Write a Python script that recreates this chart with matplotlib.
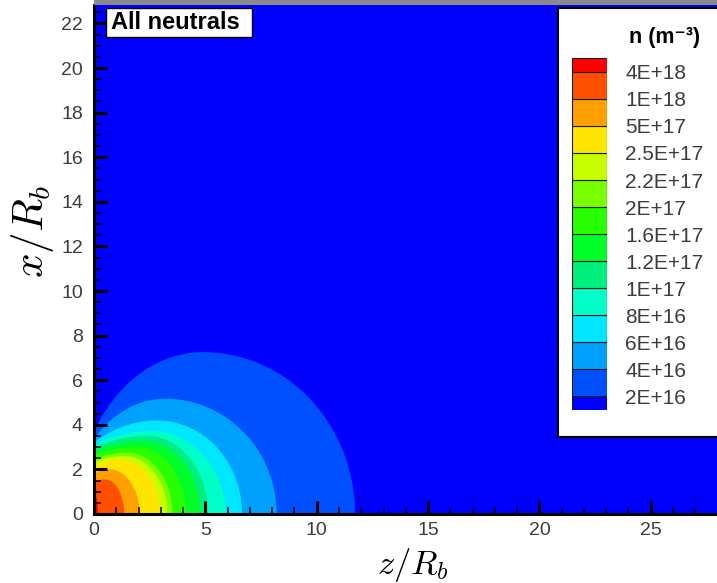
import numpy as np
import matplotlib
matplotlib.use('Agg')
import matplotlib.pyplot as plt
from matplotlib.patches import Rectangle
from matplotlib.ticker import MultipleLocator

plt.rcParams['font.family'] = ['Liberation Sans', 'DejaVu Sans']
plt.rcParams['mathtext.fontset'] = 'cm'

# contour levels of the neutral density, lowest first
level_labels = ['2E+16', '4E+16', '6E+16', '8E+16', '1E+17', '1.2E+17', '1.6E+17',
                '2E+17', '2.2E+17', '2.5E+17', '5E+17', '1E+18', '4E+18']
# one colour per band: below the first level ... above the last level
band_colors = ['#0000ff', '#0050ff', '#00a0ff', '#00e6ff', '#00ffc8', '#00f080', '#00ff28',
               '#28ff00', '#78ff00', '#c8ff00', '#ffe600', '#ffa000', '#ff5000', '#ff0000']

# each level line: crossing of the z axis, highest point (z, x), height where it meets z = 0
z_front = [11.72, 8.2, 6.65, 5.9, 5.12, 4.78, 4.12, 3.52, 3.3, 2.98, 2.05, 1.35, 0.18]
z_peak = [4.9, 3.2, 2.85, 2.55, 2.4, 2.2, 1.9, 1.5, 1.35, 1.2, 0.7, 0.5, 0.0]
x_peak = [7.26, 5.17, 4.19, 3.72, 3.5, 3.25, 3.0, 2.75, 2.6, 2.45, 2.0, 1.55, 1.0]
x_wall = [3.7, 3.35, 3.2, 3.05, 2.95, 2.8, 2.65, 2.45, 2.3, 2.15, 1.8, 1.45, 1.0]

W, H = 717, 583


def fx(px):
    return px / W


def fy(py):
    return 1 - py / H


def outline(zf, zp, xp, xw, n=120):
    # two elliptic arcs meeting at the peak, closed along the axes
    t = np.linspace(0, np.pi / 2, n)
    z_right = zp + (zf - zp) * np.sin(t)
    x_right = xp * np.cos(t)
    if zp > 0:
        a_left = zp / np.sqrt(1 - (xw / xp) ** 2)
        s = np.linspace(np.arcsin(zp / a_left), 0, n)
        z_left = zp - a_left * np.sin(s)
        x_left = xp * np.cos(s)
    else:
        z_left, x_left = np.array([0.0]), np.array([xp])
    z = np.concatenate([[0], z_left, z_right, [0]])
    x = np.concatenate([[0], x_left, x_right, [0]])
    return z, x


fig = plt.figure(figsize=(W / 100, H / 100), dpi=100)
ax = fig.add_axes([fx(94), 1 - 514 / H, (W - 94) / W, 509 / H])
ax.set_facecolor(band_colors[0])

for i in range(len(level_labels)):
    z, x = outline(z_front[i], z_peak[i], x_peak[i], x_wall[i])
    ax.fill(z, x, color=band_colors[i + 1], lw=0)

ax.set_xlim(0, (W - 94) / 22.27)
ax.set_ylim(0, 509 / 22.3)
ax.xaxis.set_major_locator(MultipleLocator(5))
ax.xaxis.set_minor_locator(MultipleLocator(1))
ax.yaxis.set_major_locator(MultipleLocator(2))
ax.yaxis.set_minor_locator(MultipleLocator(0.5))
ax.tick_params(which='both', direction='in', top=False, right=False, color='black')
ax.tick_params(which='major', length=9.5, width=2.2, labelsize=14, labelcolor='#3c3c3c')
ax.tick_params(which='minor', length=5, width=1.1)
ax.tick_params(axis='x', which='major', pad=5.5)
ax.tick_params(axis='y', which='major', pad=8)
for side in ['top', 'right']:
    ax.spines[side].set_visible(False)
for side in ['left', 'bottom']:
    ax.spines[side].set_linewidth(2.2)
    ax.spines[side].set_zorder(5)

fig.text(fx(413), fy(565), r'$z/R_b$', fontsize=25, ha='center', va='center')
fig.text(fx(33), fy(231), r'$x/R_b$', fontsize=31, ha='center', va='center', rotation=90)

# grey frame line along the top of the plot
fig.add_artist(Rectangle((fx(94), fy(5)), (W - 94) / W, 5 / H, transform=fig.transFigure,
                         facecolor='#8a8a8a', lw=0, zorder=1))

# plot title box
fig.add_artist(Rectangle((fx(106), fy(37)), 146 / W, 29 / H, transform=fig.transFigure,
                         facecolor='white', edgecolor='black', lw=1, zorder=2))
fig.text(fx(111), fy(22.5), 'All neutrals', fontsize=17, fontweight='bold',
         ha='left', va='center', zorder=3)

# legend panel
fig.add_artist(Rectangle((fx(558), fy(437)), (W + 5 - 558) / W, 429 / H,
                         transform=fig.transFigure, facecolor='white', edgecolor='black',
                         lw=1.5, zorder=2))
fig.text(fx(665), fy(37), 'n (m\u207b\u00b3)', fontsize=15.5, fontweight='bold',
         ha='center', va='center', zorder=3)

cax = fig.add_axes([fx(572), fy(410), 35 / W, 351.7 / H])
cax.set_zorder(3)
nlev = len(level_labels)
for i, c in enumerate(band_colors):
    lo = max(i - 1, -0.5)
    hi = min(i, nlev - 0.5)
    cax.bar(0, hi - lo, bottom=lo, width=1, color=c, edgecolor='#1a1a1a', linewidth=0.8)
cax.set_xlim(-0.5, 0.5)
cax.set_ylim(-0.5, nlev - 0.5)
cax.set_xticks([])
cax.yaxis.tick_right()
cax.set_yticks(range(nlev))
cax.set_yticklabels(level_labels)
cax.tick_params(axis='y', length=0, pad=13, labelsize=15, labelcolor='#3c3c3c')
for side in cax.spines.values():
    side.set_visible(False)

fig.savefig('out.png', dpi=100)
